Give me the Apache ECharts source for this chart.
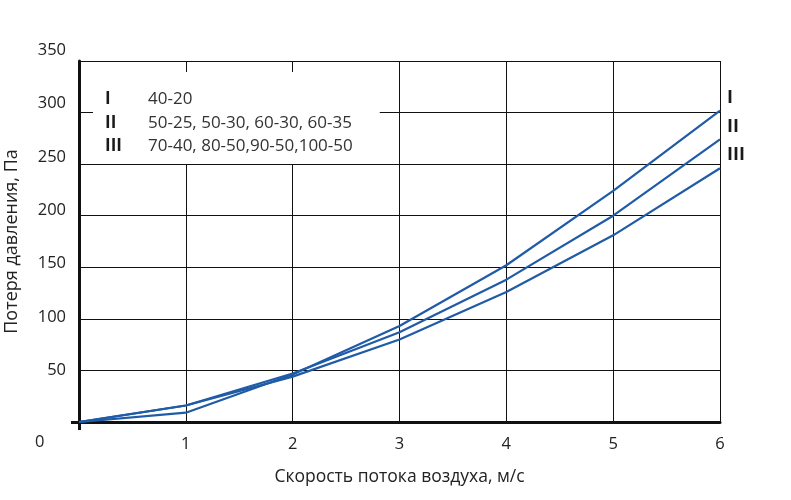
<!DOCTYPE html>
<html>
<head>
<meta charset="utf-8">
<script src="https://cdn.jsdelivr.net/npm/echarts@6/dist/echarts.min.js"></script>
<style>html,body{margin:0;padding:0;background:#fff}#c{width:791px;height:500px}</style>
</head>
<body>
<div id="c"></div>
<script>
const xValues = [0, 1, 2, 3, 4, 5, 6];
const seriesNames = ['I', 'II', 'III'];
const seriesDescriptions = ['40-20', '50-25, 50-30, 60-30, 60-35', '70-40, 80-50,90-50,100-50'];
const valuesI = [0, 9, 46, 93, 152, 224, 302];
const valuesII = [0, 16, 47, 87, 138, 200, 274];
const valuesIII = [0, 16, 44, 80, 126, 181, 246];
const yTicks = [0, 50, 100, 150, 200, 250, 300, 350];
const xTitle = 'Скорость потока воздуха, м/с';
const yTitle = 'Потеря давления, Па';

const allValues = [valuesI, valuesII, valuesIII];
const font = '"Open Sans", "Noto Sans", sans-serif';
const lineColor = '#1f5ba6';
const axisColor = '#111';

const chart = echarts.init(document.getElementById('c'), null, {renderer: 'canvas'});

const series = seriesNames.map((name, i) => ({
  name: name,
  type: 'line',
  xAxisIndex: 0,
  yAxisIndex: 0,
  data: xValues.map((x, j) => [x, allValues[i][j]]),
  showSymbol: false,
  symbol: 'none',
  lineStyle: {color: lineColor, width: 2.2},
  itemStyle: {color: lineColor},
  endLabel: {
    show: true,
    formatter: '{a}',
    offset: [-1, -13],
    fontFamily: font,
    fontSize: 18,
    fontWeight: 'bold',
    color: '#1a1a1a'
  },
  z: 3
}));

const descMap = {};
seriesNames.forEach((n, i) => descMap[n] = seriesDescriptions[i]);

chart.setOption({
  animation: false,
  backgroundColor: '#fff',
  grid: [
    {left: 79, right: 71, top: 61, bottom: 78, containLabel: false, outerBoundsMode: 'none'},
    {left: 79, right: 71, top: 50, bottom: 76, containLabel: false, outerBoundsMode: 'none'}
  ],
  legend: {
    data: seriesNames,
    orient: 'vertical',
    left: 93,
    top: 72,
    icon: 'none',
    itemWidth: 0,
    itemHeight: 0,
    itemGap: 6.5,
    backgroundColor: '#fff',
    padding: [19, 27, 9, 7],
    selectedMode: false,
    formatter: name => '{a|' + name + '}{b|' + descMap[name] + '}',
    textStyle: {
      fontFamily: font,
      rich: {
        a: {width: 43, fontSize: 17, fontWeight: 'bold', color: '#1a1a1a', fontFamily: font},
        b: {fontSize: 17, color: '#333', fontFamily: font}
      }
    },
    z: 10
  },
  xAxis: [
    {
      type: 'value',
      gridIndex: 0,
      min: 0,
      max: 6,
      interval: 1,
      name: xTitle,
      nameLocation: 'middle',
      nameGap: 46,
      nameTextStyle: {fontFamily: font, fontSize: 17.5, color: '#222'},
      axisLine: {show: true, onZero: false, lineStyle: {color: axisColor, width: 3}},
      axisTick: {show: false},
      axisLabel: {
        fontFamily: font, fontSize: 16.5, color: '#222', margin: 14,
        formatter: v => v === 0 ? '' : String(v)
      },
      splitLine: {show: true, lineStyle: {color: axisColor, width: 1}},
      z: 2
    },
    {
      type: 'value', gridIndex: 1, min: 0, max: 6, show: false
    },
    {
      type: 'value', gridIndex: 0, min: 0, max: 6, position: 'bottom', offset: 0,
      axisLine: {show: false},
      axisTick: {show: true, customValues: [0], length: 8, lineStyle: {color: axisColor, width: 3}},
      axisLabel: {show: false},
      splitLine: {show: false}
    }
  ],
  yAxis: [
    {
      type: 'value',
      gridIndex: 0,
      min: 0,
      max: 350,
      interval: 50,
      name: yTitle,
      nameLocation: 'middle',
      nameGap: 58,
      nameRotate: 90,
      nameTextStyle: {fontFamily: font, fontSize: 18, color: '#222'},
      axisLine: {show: true, onZero: false, lineStyle: {color: axisColor, width: 3}},
      axisTick: {show: false},
      axisLabel: {show: false},
      splitLine: {show: true, lineStyle: {color: axisColor, width: 1}},
      z: 2
    },
    {
      type: 'value',
      gridIndex: 1,
      min: yTicks[0],
      max: yTicks[yTicks.length - 1],
      interval: yTicks[1] - yTicks[0],
      axisLine: {show: false},
      axisTick: {show: false},
      splitLine: {show: false},
      axisLabel: {
        fontFamily: font, fontSize: 16.5, color: '#222', margin: 13,
        formatter: v => v === 0 ? '' : String(v)
      }
    },
    {
      type: 'value', gridIndex: 0, min: 0, max: 350, position: 'left', offset: 0,
      axisLine: {show: false},
      axisTick: {show: true, inside: false, customValues: [0], length: 8, lineStyle: {color: axisColor, width: 3}},
      axisLabel: {show: false},
      splitLine: {show: false}
    }
  ],
  graphic: [
    {
      type: 'text',
      left: 35,
      top: 434,
      style: {text: '0', fontFamily: font, fontSize: 16.5, fill: '#222'}
    }
  ],
  series: series
});
</script>
</body>
</html>
